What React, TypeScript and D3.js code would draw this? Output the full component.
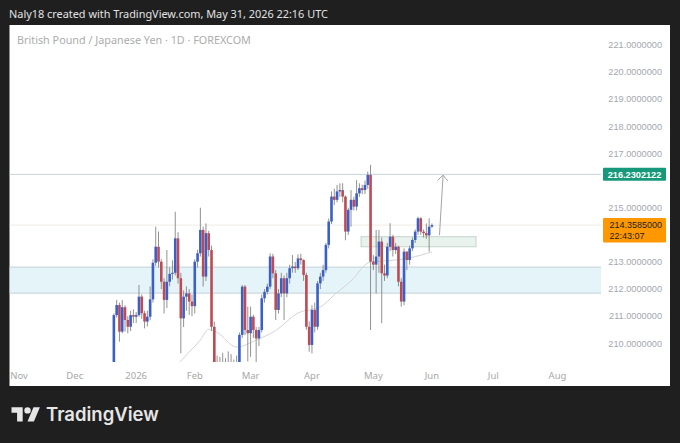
import React from "react";
import * as d3 from "d3";

const W = 680;
const H = 443;

const headerText = "Naly18 created with TradingView.com, May 31, 2026 22:16 UTC";
const chartTitle = "British Pound / Japanese Yen · 1D · FOREXCOM";

// trading calendar
const calendarStart = "2025-11-03";
const calendarEnd = "2026-08-31";
const holidays = ["2025-12-25", "2026-01-01"];
const firstBarDate = "2025-12-19";

const priceTicks = [210, 211, 212, 213, 214, 215, 216, 217, 218, 219, 220, 221];
const monthTickDates = ["2025-11-03", "2025-12-01", "2026-01-02", "2026-02-02", "2026-03-02", "2026-04-01", "2026-05-01", "2026-06-01", "2026-07-01", "2026-08-03"];
const monthTickLabels = ["Nov", "Dec", "2026", "Feb", "Mar", "Apr", "May", "Jun", "Jul", "Aug"];

// daily candles from 2025-12-19 to 2026-06-01
const opens = [
  208.70, 211.04, 211.41, 210.43, 211.33, 210.86, 210.61, 211.04, 210.98, 211.04,
  211.72, 211.11, 210.80, 210.98, 211.62, 212.97, 213.56, 213.01, 212.27, 211.60,
  212.27, 212.56, 212.60, 213.87, 212.40, 210.92, 211.72, 211.84, 211.54, 211.37,
  213.01, 213.32, 214.18, 212.46, 214.06, 213.44, 210.61, 208.70, 208.90, 208.60,
  209.00, 208.80, 209.10, 208.90, 208.75, 208.95, 210.31, 212.09, 210.49, 210.37,
  210.98, 210.49, 210.18, 210.49, 211.66, 211.90, 212.09, 213.20, 212.58, 211.23,
  211.84, 212.40, 211.84, 212.40, 212.77, 212.83, 212.77, 213.13, 213.07, 212.52,
  210.61, 209.94, 211.23, 210.61, 212.21, 212.46, 212.70, 213.63, 214.49, 215.41,
  215.29, 215.60, 215.65, 215.41, 214.12, 214.92, 215.29, 215.04, 215.53, 215.72,
  215.65, 215.84, 216.21, 213.01, 212.90, 213.20, 213.75, 212.58, 212.50, 213.56,
  213.93, 213.44, 213.56, 212.27, 211.54, 213.38, 213.07, 213.50, 213.81, 214.12,
  214.61, 214.12, 214.06, 213.98, 214.30,
];
const highs = [
  211.10, 211.60, 211.50, 211.60, 211.40, 211.00, 211.20, 211.25, 211.15, 212.15,
  211.80, 211.20, 211.20, 212.10, 213.10, 214.30, 214.12, 213.10, 212.40, 213.44,
  212.80, 213.06, 214.85, 214.10, 212.60, 211.95, 212.10, 212.00, 211.80, 213.10,
  213.45, 215.00, 214.30, 214.42, 214.15, 213.60, 210.80, 209.55, 209.50, 209.65,
  209.45, 209.70, 209.60, 209.40, 209.55, 210.40, 212.15, 212.15, 211.35, 211.35,
  211.05, 210.60, 210.60, 211.80, 212.00, 212.20, 213.32, 213.30, 212.70, 212.00,
  212.60, 212.50, 212.60, 212.90, 213.26, 213.00, 213.28, 213.30, 213.10, 212.60,
  210.80, 211.40, 211.50, 212.30, 212.60, 212.90, 213.70, 214.60, 215.60, 215.70,
  215.84, 215.90, 215.90, 215.45, 215.00, 215.65, 215.40, 216.02, 215.90, 215.85,
  216.00, 216.33, 216.58, 213.25, 214.18, 214.18, 213.90, 212.90, 213.70, 214.43,
  214.00, 213.70, 213.60, 212.40, 213.50, 213.40, 213.60, 213.90, 214.20, 214.67,
  214.65, 214.20, 214.42, 214.61, 214.42,
];
const lows = [
  208.50, 210.95, 210.06, 210.37, 210.43, 210.37, 210.45, 210.75, 210.75, 210.98,
  210.90, 210.55, 210.62, 210.85, 211.50, 212.85, 212.80, 212.00, 211.10, 211.30,
  212.10, 212.35, 212.50, 212.20, 209.63, 210.60, 211.20, 211.05, 211.00, 211.10,
  212.80, 213.20, 212.09, 212.30, 213.20, 210.45, 208.40, 208.20, 208.30, 208.40,
  208.50, 208.60, 208.70, 208.50, 208.40, 208.80, 210.20, 210.30, 209.33, 209.50,
  210.20, 209.30, 209.90, 210.40, 211.50, 211.80, 212.00, 212.40, 210.86, 211.10,
  211.70, 210.86, 211.70, 212.20, 212.60, 212.60, 212.70, 212.90, 212.30, 210.50,
  209.69, 209.63, 210.40, 210.50, 212.00, 212.30, 212.60, 213.50, 214.40, 215.10,
  215.20, 215.40, 215.20, 213.80, 214.00, 214.30, 214.90, 214.90, 215.40, 215.50,
  215.50, 215.70, 210.49, 212.70, 211.84, 212.60, 210.74, 212.30, 212.40, 213.40,
  213.20, 213.30, 212.10, 211.35, 211.40, 212.70, 212.90, 213.40, 213.70, 214.00,
  214.00, 213.90, 213.85, 213.38, 214.26,
];
const closes = [
  211.04, 211.41, 210.43, 211.33, 210.86, 210.61, 211.04, 210.98, 211.04, 211.72,
  211.11, 210.80, 210.98, 211.62, 212.97, 213.56, 213.01, 212.27, 211.60, 212.27,
  212.56, 212.60, 213.87, 212.40, 210.92, 211.72, 211.84, 211.54, 211.37, 213.01,
  213.32, 214.18, 212.46, 214.06, 213.44, 210.61, 208.70, 208.90, 208.60, 209.00,
  208.80, 209.10, 208.90, 208.75, 208.95, 210.31, 212.09, 210.49, 210.37, 210.98,
  210.49, 210.18, 210.49, 211.66, 211.90, 212.09, 213.20, 212.58, 211.23, 211.84,
  212.40, 211.84, 212.40, 212.77, 212.83, 212.77, 213.13, 213.07, 212.52, 210.61,
  209.94, 211.23, 210.61, 212.21, 212.46, 212.70, 213.63, 214.49, 215.41, 215.29,
  215.60, 215.65, 215.41, 214.12, 214.92, 215.29, 215.04, 215.53, 215.72, 215.65,
  215.84, 216.21, 213.01, 212.90, 213.20, 213.75, 212.58, 212.50, 213.56, 213.93,
  213.44, 213.56, 212.27, 211.54, 213.38, 213.07, 213.50, 213.81, 214.12, 214.61,
  214.12, 214.06, 213.98, 214.30, 214.3585,
];

// moving average line
const maDates = ["2026-01-16", "2026-01-23", "2026-01-29", "2026-02-04", "2026-02-09", "2026-02-12", "2026-02-23", "2026-03-04", "2026-03-13", "2026-03-25", "2026-04-06", "2026-04-13", "2026-04-21", "2026-04-30", "2026-05-11", "2026-05-20", "2026-06-01"];
const maValues = [208.9, 209.25, 209.68, 210.12, 210.52, 210.4, 209.86, 210.12, 210.47, 211.12, 211.34, 211.78, 212.3, 213.0, 213.05, 213.15, 213.37];

// drawings
const resistanceLevel = 216.2302122;
const lastPrice = 214.3585;
const countdown = "22:43:07";
const demandZone = [211.85, 212.81];
const entryBox = { fromBar: 122.6, toBar: 163.8, low: 213.56, high: 213.93 };
const arrowFrom = { bar: 150.7, price: 213.99 };
const arrowTo = { bar: 152.0, price: 216.2 };

function tradingDays(start: string, end: string, skip: string[]) {
  const out: string[] = [];
  let d = new Date(start + "T00:00:00Z");
  const e = new Date(end + "T00:00:00Z");
  while (d <= e) {
    const wd = d.getUTCDay();
    const s = d.toISOString().slice(0, 10);
    if (wd !== 0 && wd !== 6 && !skip.includes(s)) out.push(s);
    d = new Date(d.getTime() + 86400000);
  }
  return out;
}

const FONT = "'Noto Sans', 'DejaVu Sans', sans-serif";
const AXIS_FONT = "'Liberation Sans', Arial, sans-serif";

export default function App() {
  const days = tradingDays(calendarStart, calendarEnd, holidays);
  const dayIdx = new Map(days.map((d, i) => [d, i] as [string, number]));
  const start = dayIdx.get(firstBarDate) as number;

  const x = d3.scaleLinear().domain([0, 193]).range([19, 557.5]);
  const y = d3.scaleLinear().domain([210, 221]).range([343.3, 45]);

  const plot = { left: 9.5, right: 601, top: 25, bottom: 362 };
  const bodyW = 2.6;

  const candles = closes.map((c, i) => ({
    i: start + i,
    o: opens[i],
    h: highs[i],
    l: lows[i],
    c,
  }));

  const maLine = d3
    .line<[number, number]>()
    .x((d) => x(d[0]))
    .y((d) => y(d[1]))
    .curve(d3.curveMonotoneX)(maDates.map((d, i) => [dayIdx.get(d) as number, maValues[i]]));

  const ax0 = x(arrowFrom.bar), ay0 = y(arrowFrom.price);
  const ax1 = x(arrowTo.bar), ay1 = y(arrowTo.price);
  const ang = Math.atan2(ay1 - ay0, ax1 - ax0);
  const headLen = 7.5;
  const h1 = [ax1 - headLen * Math.cos(ang - 0.75), ay1 - headLen * Math.sin(ang - 0.75)];
  const h2 = [ax1 - headLen * Math.cos(ang + 0.75), ay1 - headLen * Math.sin(ang + 0.75)];

  // axis labels hidden behind the price boxes
  const resY = y(resistanceLevel);
  const lastTop = y(lastPrice) - 7;
  const lastBottom = lastTop + 24.5;
  const visibleTicks = priceTicks.filter((p) => {
    const ty = y(p);
    if (Math.abs(ty - resY) < 10) return false;
    if (ty > lastTop - 4 && ty < lastBottom + 4) return false;
    return true;
  });

  return (
    <div style={{ position: "fixed", left: 0, top: 0, width: W, height: H }}>
      <svg width={W} height={H} viewBox={`0 0 ${W} ${H}`} style={{ display: "block" }}>
        <defs>
          <clipPath id="plotClip">
            <rect x={plot.left} y={plot.top} width={plot.right - plot.left} height={plot.bottom - plot.top} />
          </clipPath>
        </defs>
        <rect x={0} y={0} width={W} height={H} fill="#1f1f1f" />
        <text x={9} y={18} fill="#e2e2e2" fontSize={10.9} fontFamily={FONT}>
          {headerText}
        </text>
        <rect x={9.5} y={25} width={660.5} height={361} fill="#ffffff" />

        <g clipPath="url(#plotClip)">
          {/* demand zone */}
          <rect
            x={plot.left}
            y={y(demandZone[1])}
            width={plot.right - plot.left}
            height={y(demandZone[0]) - y(demandZone[1])}
            fill="#e5f4f9"
          />
          <line x1={plot.left} x2={plot.right} y1={y(demandZone[1])} y2={y(demandZone[1])} stroke="#c3d0d6" strokeWidth={1} />
          <line x1={plot.left} x2={plot.right} y1={y(demandZone[0])} y2={y(demandZone[0])} stroke="#c3d0d6" strokeWidth={1} />

          {/* entry box */}
          <rect
            x={x(entryBox.fromBar)}
            y={y(entryBox.high)}
            width={x(entryBox.toBar) - x(entryBox.fromBar)}
            height={y(entryBox.low) - y(entryBox.high)}
            fill="#e8f3ee"
            stroke="#c4d4cc"
            strokeWidth={1}
          />

          {/* resistance line */}
          <line x1={plot.left} x2={plot.right} y1={resY} y2={resY} stroke="#c6d3dd" strokeWidth={1} />
          {/* last price line */}
          <line x1={plot.left} x2={plot.right} y1={y(lastPrice)} y2={y(lastPrice)} stroke="#f1ebe3" strokeWidth={1} />

          {/* moving average */}
          <path d={maLine || ""} fill="none" stroke="#d3d3d3" strokeWidth={1} />

          {/* candles */}
          {candles.map((d) => {
            const cx = x(d.i);
            const up = d.c >= d.o;
            const top = y(Math.max(d.o, d.c));
            const bot = y(Math.min(d.o, d.c));
            return (
              <g key={d.i}>
                <line x1={cx} x2={cx} y1={y(d.h)} y2={y(d.l)} stroke="#858585" strokeWidth={0.9} />
                <rect
                  x={cx - bodyW / 2}
                  y={top}
                  width={bodyW}
                  height={Math.max(0.8, bot - top)}
                  fill={up ? "#3a5fc6" : "#bd4b53"}
                />
              </g>
            );
          })}

          {/* arrow */}
          <line x1={ax0} y1={ay0} x2={ax1} y2={ay1} stroke="#a3a3a3" strokeWidth={1} />
          <polyline
            points={`${h1[0]},${h1[1]} ${ax1},${ay1} ${h2[0]},${h2[1]}`}
            fill="none"
            stroke="#a3a3a3"
            strokeWidth={1}
          />
        </g>

        {/* chart title */}
        <text x={17} y={44} fill="#acacac" fontSize={10.8} fontFamily={FONT}>
          {chartTitle}
        </text>

        {/* price axis */}
        {visibleTicks.map((p) => (
          <text key={p} x={662} y={y(p)} dy="0.35em" textAnchor="end" fill="#a4a7ae" fontSize={9.2} fontFamily={AXIS_FONT}>
            {p.toFixed(7)}
          </text>
        ))}

        {/* resistance label */}
        <rect x={603} y={resY - 6.5} width={63} height={13} fill="#16997a" rx={1} />
        <text x={634.5} y={resY} dy="0.35em" textAnchor="middle" fill="#ffffff" fontSize={9.2} fontWeight={700} fontFamily={AXIS_FONT}>
          {resistanceLevel.toFixed(7)}
        </text>

        {/* last price label */}
        <rect x={603} y={lastTop} width={63} height={24.5} fill="#ff9800" rx={1} />
        <text x={609.5} y={y(lastPrice) - 0.5} dy="0.35em" fill="#1c1c1c" fontSize={9} fontFamily={AXIS_FONT}>
          {lastPrice.toFixed(7)}
        </text>
        <text x={609.5} y={y(lastPrice) + 11} dy="0.35em" fill="#1c1c1c" fontSize={9} fontFamily={AXIS_FONT}>
          {countdown}
        </text>

        {/* time axis */}
        {monthTickDates.map((d, i) => (
          <text key={d} x={x(dayIdx.get(d) as number)} y={378.5} textAnchor="middle" fill="#a8a8a8" fontSize={9.5} fontFamily={FONT}>
            {monthTickLabels[i]}
          </text>
        ))}

        {/* TradingView logo */}
        <g transform="translate(11.5,404) scale(0.8)" fill="#e6e6e6">
          <path d="M14 22H7V11H0V4h14v18zM28 22h-8l7.5-18h8L28 22z" />
          <circle cx={20} cy={8} r={4} />
        </g>
        <text x={46} y={421} fill="#e6e6e6" fontSize={18.5} fontWeight={600} fontFamily="Inter, 'Noto Sans', sans-serif">
          TradingView
        </text>
      </svg>
    </div>
  );
}
